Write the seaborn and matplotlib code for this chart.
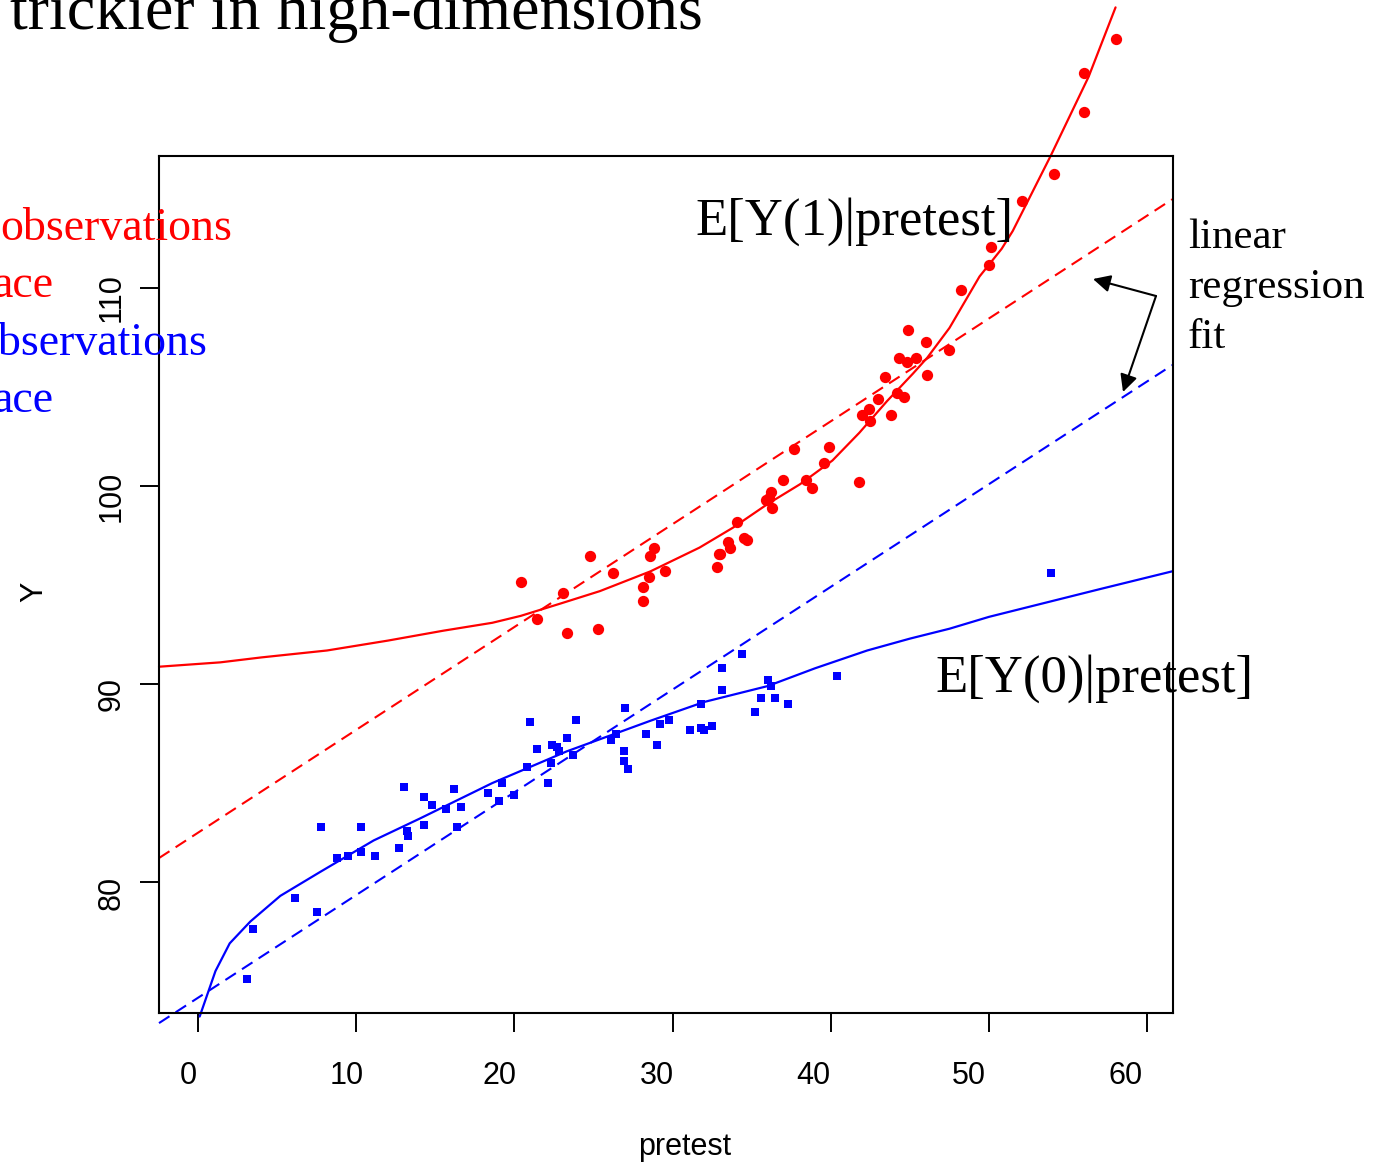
import numpy as np
import pandas as pd
import matplotlib
matplotlib.use("Agg")
import matplotlib.pyplot as plt
import seaborn as sns
from matplotlib.transforms import ScaledTranslation

# ---------------- data ----------------
treated_pretest = [20.4, 21.4, 23.1, 23.3, 24.8, 25.3, 26.2, 28.1, 28.1, 28.5, 28.6, 28.8, 29.5,
                   32.8, 32.9, 33.0, 33.5, 33.6, 34.1, 34.5, 34.7, 35.9, 36.1, 36.2, 36.3, 37.0,
                   37.7, 38.4, 38.8, 39.6, 39.9, 41.8, 42.0, 42.4, 42.5, 43.0, 43.4, 43.8, 44.2,
                   44.3, 44.6, 44.8, 44.9, 45.4, 46.0, 46.1, 47.5, 48.2, 50.0, 50.1, 52.1, 54.1,
                   56.0, 56.0, 58.0]
treated_y = [95.18, 93.3, 94.6, 92.6, 96.5, 92.8, 95.6, 94.9, 94.2, 95.4, 96.5, 96.9, 95.7,
             95.9, 96.6, 96.6, 97.2, 96.9, 98.2, 97.4, 97.3, 99.3, 99.4, 99.7, 98.9, 100.3,
             101.9, 100.3, 99.9, 101.2, 102.0, 100.2, 103.6, 103.9, 103.3, 104.4, 105.5, 103.6, 104.7,
             106.5, 104.5, 106.3, 107.9, 106.5, 107.3, 105.6, 106.9, 109.9, 111.2, 112.1, 114.4, 115.8,
             118.9, 120.9, 122.6]

control_pretest = [3.1, 3.5, 6.1, 7.5, 7.8, 8.8, 9.5, 10.3, 10.3, 11.2, 12.7, 13.0, 13.2, 13.3,
                   14.3, 14.3, 14.8, 15.7, 16.2, 16.4, 16.6, 18.3, 19.0, 19.2, 20.0, 20.8, 21.0,
                   21.4, 22.1, 22.3, 22.4, 22.7, 22.8, 23.3, 23.7, 23.9, 26.1, 26.4, 26.9, 26.9,
                   27.0, 27.2, 28.3, 29.0, 29.2, 29.8, 31.1, 31.8, 31.8, 32.0, 32.5, 33.1, 33.1,
                   34.4, 35.2, 35.6, 36.0, 36.2, 36.5, 37.3, 40.4, 53.9]
control_y = [75.1, 77.6, 79.2, 78.5, 82.8, 81.2, 81.3, 82.8, 81.5, 81.3, 81.7, 84.8, 82.6, 82.3,
             84.3, 82.9, 83.9, 83.7, 84.7, 82.8, 83.8, 84.5, 84.1, 85.0, 84.4, 85.8, 88.1,
             86.7, 85.0, 86.0, 86.9, 86.8, 86.6, 87.3, 86.4, 88.2, 87.2, 87.5, 86.6, 86.1,
             88.8, 85.7, 87.5, 86.9, 88.0, 88.2, 87.7, 87.8, 89.0, 87.7, 87.9, 89.7, 90.8,
             91.5, 88.6, 89.3, 90.2, 89.9, 89.3, 89.0, 90.4, 95.6]

# true conditional expectation curves
mu1_x = [-2.47, 1.4, 4.0, 8.15, 12.0, 15.5, 18.6, 20.4, 22.9, 25.4, 28.6, 31.7, 33.8, 36.0,
         38.05, 40.1, 41.8, 43.55, 45.2, 46.1, 47.5, 49.4, 50.8, 51.5, 53.9, 56.3, 58.0]
mu1_y = [90.88, 91.1, 91.35, 91.7, 92.2, 92.7, 93.1, 93.45, 94.07, 94.7, 95.7, 96.9, 97.9, 99.1,
         100.1, 101.3, 102.7, 104.3, 105.7, 106.5, 108.0, 110.6, 112.0, 112.9, 116.7, 120.7, 124.2]
mu0_x = [0.1, 1.1, 2.0, 3.3, 5.2, 7.7, 11.1, 14.0, 18.6, 23.3, 28.6, 32.0, 36.0, 39.0, 42.3,
         45.0, 47.5, 50.0, 52.0, 55.0, 57.0, 61.58]
mu0_y = [73.2, 75.5, 76.9, 78.0, 79.3, 80.5, 82.1, 83.2, 85.0, 86.6, 88.15, 89.1, 89.9, 90.8,
         91.7, 92.3, 92.8, 93.4, 93.8, 94.4, 94.8, 95.7]

# linear regression fits (end points)
fit_x = [-2.47, 61.58]
fit1_y = [81.21, 114.5]
fit0_y = [72.87, 106.12]

x_ticks = [0, 10, 20, 30, 40, 50, 60]
y_ticks = [80, 90, 100, 110]

RED = "#FF0000"
BLUE = "#0000FF"

# ---------------- style ----------------
sns.set_style("ticks", rc={"axes.edgecolor": "black", "xtick.color": "black",
                           "ytick.color": "black", "text.color": "black",
                           "axes.labelcolor": "black"})
plt.rcParams['font.family'] = ['Liberation Sans', 'DejaVu Sans']
SERIF = ['Liberation Serif', 'DejaVu Serif']

W, H = 1385, 1165
fig = plt.figure(figsize=(W / 100, H / 100), dpi=100)
ax = fig.add_axes([159 / W, 1 - 1013 / H, (1172.5 - 159) / W, (1013 - 156) / H])

def P(px, py):
    return (px / W, 1 - py / H)

treated = pd.DataFrame({"pretest": treated_pretest, "Y": treated_y})
control = pd.DataFrame({"pretest": control_pretest, "Y": control_y})

# regression fits (dashed)
sns.lineplot(x=fit_x, y=fit1_y, color=RED, lw=1.5, ax=ax, clip_on=False,
             linestyle=(0, (6, 3.5)), zorder=2)
sns.lineplot(x=fit_x, y=fit0_y, color=BLUE, lw=1.5, ax=ax, clip_on=False,
             linestyle=(0, (6, 3.5)), zorder=2)
# true curves (solid)
sns.lineplot(x=mu1_x, y=mu1_y, color=RED, lw=1.6, ax=ax, clip_on=False, sort=False,
             estimator=None, zorder=2)
sns.lineplot(x=mu0_x, y=mu0_y, color=BLUE, lw=1.6, ax=ax, clip_on=False, sort=False,
             estimator=None, zorder=2)
# observations
sns.scatterplot(data=treated, x="pretest", y="Y", color=RED, marker="o", s=66,
                linewidth=0, ax=ax, clip_on=False, zorder=3)
sns.scatterplot(data=control, x="pretest", y="Y", color=BLUE, marker="s", s=31,
                linewidth=0, ax=ax, clip_on=False, zorder=3)

ax.set_xlim(-2.47, 61.6)
ax.set_ylim(73.38, 116.69)
ax.set_xticks(x_ticks)
ax.set_yticks(y_ticks)
ax.set_xticklabels([str(v) for v in x_ticks])
ax.set_yticklabels([str(v) for v in y_ticks])
for s in ax.spines.values():
    s.set_linewidth(1.5)
    s.set_color("black")
ax.tick_params(direction="out", length=13.5, width=1.4, labelsize=22)
ax.tick_params(axis="x", pad=21)
ax.tick_params(axis="y", pad=10, labelrotation=90)
for lbl, dy in zip(ax.get_yticklabels(), [11, 10, 10, 9]):
    lbl.set_va("center")
    lbl.set_transform(lbl.get_transform() + ScaledTranslation(0, -dy / 100, fig.dpi_scale_trans))
for lbl, dx in zip(ax.get_xticklabels(), [10, 10, 15, 16, 18, 20, 22]):
    lbl.set_transform(lbl.get_transform() + ScaledTranslation(-dx / 100, 0, fig.dpi_scale_trans))

ax.set_xlabel("pretest", fontsize=22)
ax.xaxis.set_label_coords((685 - 159) / 1013.5, (1013 - 1147) / 857)
ax.xaxis.label.set_va("center")
ax.set_ylabel("Y", fontsize=22)
ax.yaxis.set_label_coords((34 - 159) / 1013.5, (1013 - 592) / 857)
ax.yaxis.label.set_va("center")

# texts
fig.text(*P(10, 29), "trickier in high-dimensions", fontsize=46, family=SERIF,
         ha="left", va="baseline")
fig.text(*P(232, 240), "observations", fontsize=33, family=SERIF, color=RED, ha="right", va="baseline")
fig.text(*P(53, 297), "ace", fontsize=33, family=SERIF, color=RED, ha="right", va="baseline")
fig.text(*P(207, 355), "observations", fontsize=33, family=SERIF, color=BLUE, ha="right", va="baseline")
fig.text(*P(53, 412), "ace", fontsize=33, family=SERIF, color=BLUE, ha="right", va="baseline")

fig.text(*P(695, 235), "E[Y(1)|pretest]", fontsize=38, family=SERIF, ha="left", va="baseline")
fig.text(*P(935, 692), "E[Y(0)|pretest]", fontsize=38, family=SERIF, ha="left", va="baseline")
for word, base in zip(["linear", "regression", "fit"], [248, 298, 348]):
    fig.text(*P(1188, base), word, fontsize=31, family=SERIF, ha="left", va="baseline")

arrow_kw = dict(arrowstyle="-|>", color="black", lw=1.5, mutation_scale=26,
                shrinkA=0, shrinkB=0)
for tip in [(1093, 279), (1123, 392)]:
    ax.annotate("", xy=P(*tip), xytext=P(1156, 296), xycoords="figure fraction",
                textcoords="figure fraction", arrowprops=arrow_kw, annotation_clip=False)

fig.savefig("out.png", dpi=100)
